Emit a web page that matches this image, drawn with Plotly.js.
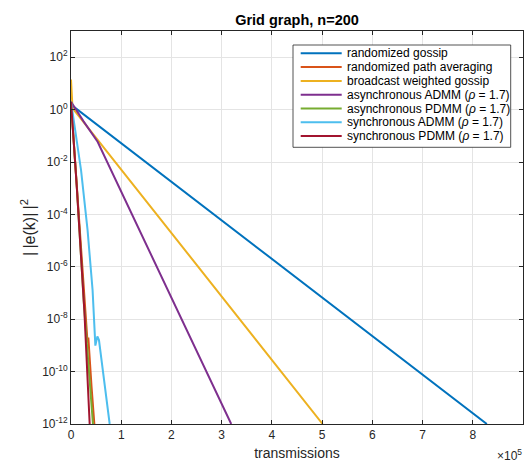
<!DOCTYPE html>
<html><head><meta charset="utf-8">
<script src="https://cdn.plot.ly/plotly-3.0.1.min.js"></script>
<style>html,body{margin:0;padding:0;background:#fff}#chart{width:525px;height:463px}</style>
</head><body><div id="chart"></div>
<script>
// ---- data ----
const seriesNames = [
  'randomized gossip',
  'randomized path averaging',
  'broadcast weighted gossip',
  'asynchronous ADMM (<i>ρ</i> = 1.7)',
  'asynchronous PDMM (<i>ρ</i> = 1.7)',
  'synchronous ADMM (<i>ρ</i> = 1.7)',
  'synchronous PDMM (<i>ρ</i> = 1.7)'
];
const seriesColors = ['#0072BD', '#D95319', '#EDB120', '#7E2F8E', '#77AC30', '#4DBEEE', '#A2142F'];

const xGossip = [0, 3e3, 8.28e5];
const yGossip = [2.0, 1.4, 1e-12];

const xPathAvg = [0, 1.13e4, 2.6e4, 3.3e4, 3.45e4, 3.8e4, 4.1e4, 4.65e4];
const yPathAvg = [2.0, 1.4e-3, 5e-8, 1.26e-9, 2e-9, 1e-10, 2.5e-11, 1e-12];

const xBroadcast = [0, 3e3, 5.01e5];
const yBroadcast = [14, 1.15, 1e-12];

const xAsyncADMM = [0, 2.5e4, 5.3e4, 9.9e4, 2.0e5, 3.19e5];
const yAsyncADMM = [2.0, 0.355, 0.059, 8.3e-4, 7.1e-8, 1e-12];

const xAsyncPDMM = [0, 1.13e4, 2.52e4, 4.37e4];
const yAsyncPDMM = [2.0, 1.4e-3, 5.2e-8, 1e-12];

const xSyncADMM = [0, 2.0e4, 3.3e4, 4.3e4, 4.85e4, 5.25e4, 5.57e4, 7.7e4];
const ySyncADMM = [2.0, 4.9e-3, 2.5e-5, 1.26e-7, 9.8e-10, 2.2e-9, 1.6e-9, 1e-12];

const xSyncPDMM = [0, 1.13e4, 2.66e4, 3.72e4];
const ySyncPDMM = [2.0, 1.3e-3, 2.1e-8, 1e-12];

const xTickVals = [0, 1e5, 2e5, 3e5, 4e5, 5e5, 6e5, 7e5, 8e5, 9e5];
const xTickText = ['0', '1', '2', '3', '4', '5', '6', '7', '8', '9'];
const yTickVals = [1e-12, 1e-10, 1e-8, 1e-6, 1e-4, 1e-2, 1e0, 1e2];
const yTickText = ['10<sup>-12</sup>', '10<sup>-10</sup>', '10<sup>-8</sup>', '10<sup>-6</sup>',
                   '10<sup>-4</sup>', '10<sup>-2</sup>', '10<sup>0</sup>', '10<sup>2</sup>'];

// ---- figure ----
const xs = [xGossip, xPathAvg, xBroadcast, xAsyncADMM, xAsyncPDMM, xSyncADMM, xSyncPDMM];
const ys = [yGossip, yPathAvg, yBroadcast, yAsyncADMM, yAsyncPDMM, ySyncADMM, ySyncPDMM];
const traces = xs.map((x, i) => ({
  x: x, y: ys[i], type: 'scatter', mode: 'lines', name: seriesNames[i],
  line: {color: seriesColors[i], width: 2}, showlegend: false, hoverinfo: 'skip'
}));

const FONT = 'Liberation Sans, Arial, Helvetica, sans-serif';
const W = 525, H = 463;
const M = {l: 71, r: 2, t: 31, b: 39};
const PW = W - M.l - M.r, PH = H - M.t - M.b;
const px = v => (v - M.l) / PW;
const py = v => (M.t + PH - v) / PH;

// MATLAB-like legend box drawn in paper coordinates
const shapes = [{
  type: 'rect', xref: 'paper', yref: 'paper', layer: 'above',
  x0: px(293), x1: px(510.7), y0: py(147.3), y1: py(45),
  fillcolor: '#ffffff', line: {color: '#262626', width: 0.8}
}];
const annotations = [];
seriesNames.forEach((name, i) => {
  const yc = py(53.3 + i * 13.8);
  shapes.push({type: 'line', xref: 'paper', yref: 'paper', layer: 'above',
    x0: px(300.7), x1: px(341.7), y0: yc, y1: yc,
    line: {color: seriesColors[i], width: 2}});
  annotations.push({xref: 'paper', yref: 'paper', x: px(345), y: yc,
    xanchor: 'left', yanchor: 'middle', showarrow: false, text: name,
    font: {family: FONT, size: 12, color: '#000'}});
});
annotations.push({xref: 'paper', yref: 'paper', x: px(523.5), y: py(455),
  xanchor: 'right', yanchor: 'middle', showarrow: false, text: '×10<sup>5</sup>',
  font: {family: FONT, size: 12, color: '#262626'}});

const axisCommon = {
  ticks: 'inside', ticklen: 4, tickcolor: '#262626', tickwidth: 1,
  showline: true, linecolor: '#262626', linewidth: 1, mirror: 'ticks',
  showgrid: true, gridcolor: '#e4e4e4', gridwidth: 1, zeroline: false,
  tickfont: {family: FONT, size: 12, color: '#262626'}
};

const layout = {
  width: W, height: H, margin: M,
  paper_bgcolor: '#ffffff', plot_bgcolor: '#ffffff',
  font: {family: FONT, size: 12, color: '#262626'},
  title: {text: '<b>Grid graph, n=200</b>', xref: 'paper', x: 0.5, xanchor: 'center',
          yref: 'container', y: 1 - 20 / H, yanchor: 'middle',
          font: {family: FONT, size: 14.5, color: '#000'}},
  xaxis: Object.assign({}, axisCommon, {
    range: [0, 9e5], tickmode: 'array', tickvals: xTickVals, ticktext: xTickText,
    title: {text: 'transmissions', font: {family: FONT, size: 14, color: '#262626'}, standoff: 6}
  }),
  yaxis: Object.assign({}, axisCommon, {
    type: 'log', range: [-12, 3], tickmode: 'array', tickvals: yTickVals, ticktext: yTickText,
    title: {text: '|\u2009|e(k)|\u2009|<sup>2</sup>', font: {family: FONT, size: 16, color: '#262626'}, standoff: 2}
  }),
  shapes: shapes, annotations: annotations, showlegend: false
};

Plotly.newPlot('chart', traces, layout, {displayModeBar: false});
</script></body></html>
